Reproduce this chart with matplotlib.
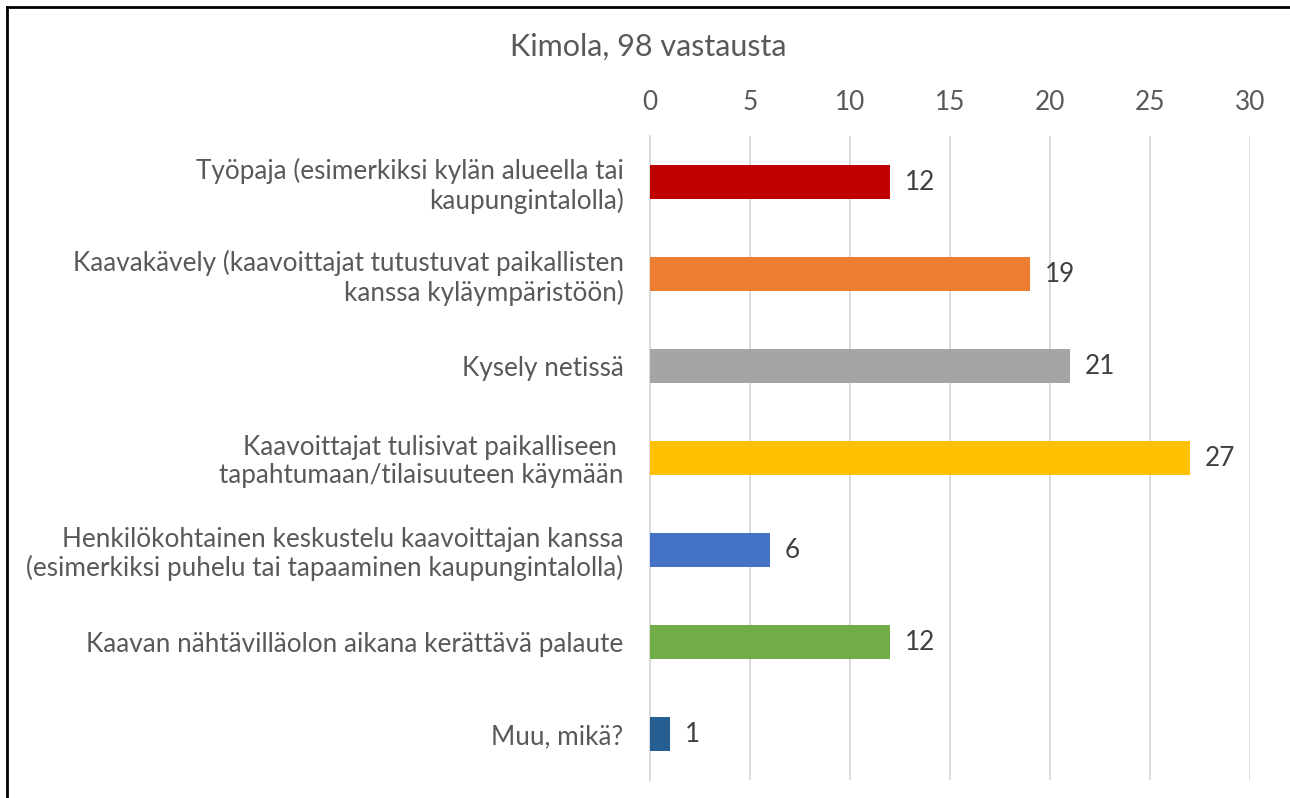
import matplotlib.pyplot as plt
from matplotlib.lines import Line2D

categories = [
    "Työpaja (esimerkiksi kylän alueella tai\nkaupungintalolla)",
    "Kaavakävely (kaavoittajat tutustuvat paikallisten\nkanssa kyläympäristöön)",
    "Kysely netissä",
    "Kaavoittajat tulisivat paikalliseen \ntapahtumaan/tilaisuuteen käymään",
    "Henkilökohtainen keskustelu kaavoittajan kanssa\n(esimerkiksi puhelu tai tapaaminen kaupungintalolla)",
    "Kaavan nähtävilläolon aikana kerättävä palaute",
    "Muu, mikä?",
]
values = [12, 19, 21, 27, 6, 12, 1]
colors = ["#C00000", "#ED7D31", "#A5A5A5", "#FFC000", "#4472C4", "#70AD47", "#255E91"]
ticks = [0, 5, 10, 15, 20, 25, 30]
title = "Kimola, 98 vastausta"

text_col = "#595959"
fs = 18.8
plt.rcParams['font.family'] = ['Lato', 'DejaVu Sans']

fig = plt.figure(figsize=(12.9, 7.98), dpi=100)
ax = fig.add_axes([650 / 1290, 1 - 780 / 798, 600 / 1290, 644 / 798])

y = list(range(len(categories)))
ax.barh(y, values, height=0.37, color=colors, zorder=3)
for yi, v in zip(y, values):
    ax.text(v + 0.75, yi, str(v), va='center', ha='left', fontsize=fs, color="#404040")

ax.set_xlim(0, 30)
ax.set_ylim(6.5, -0.5)
ax.set_xticks(ticks)
ax.set_yticks(y)
ax.set_yticklabels(categories, fontsize=fs, color=text_col, linespacing=1.15)
ax.xaxis.tick_top()
ax.tick_params(axis='x', length=0, pad=15, labelsize=fs, labelcolor=text_col)
ax.tick_params(axis='y', length=0, pad=19)
ax.grid(axis='x', color="#D9D9D9", linewidth=1.3, zorder=0)
for s in ['top', 'right', 'bottom']:
    ax.spines[s].set_visible(False)
ax.spines['left'].set_color("#D9D9D9")
ax.spines['left'].set_linewidth(1.3)

fig.text(648 / 1290, 1 - 47 / 798, title, ha='center', va='center', fontsize=22, color=text_col)

# frame on left and top edges
fig.add_artist(Line2D([7 / 1290, 7 / 1290], [0, 1 - 7 / 798], transform=fig.transFigure, color='black', lw=2))
fig.add_artist(Line2D([7 / 1290, 1], [1 - 7 / 798, 1 - 7 / 798], transform=fig.transFigure, color='black', lw=2))

fig.savefig("out.png", dpi=100)
